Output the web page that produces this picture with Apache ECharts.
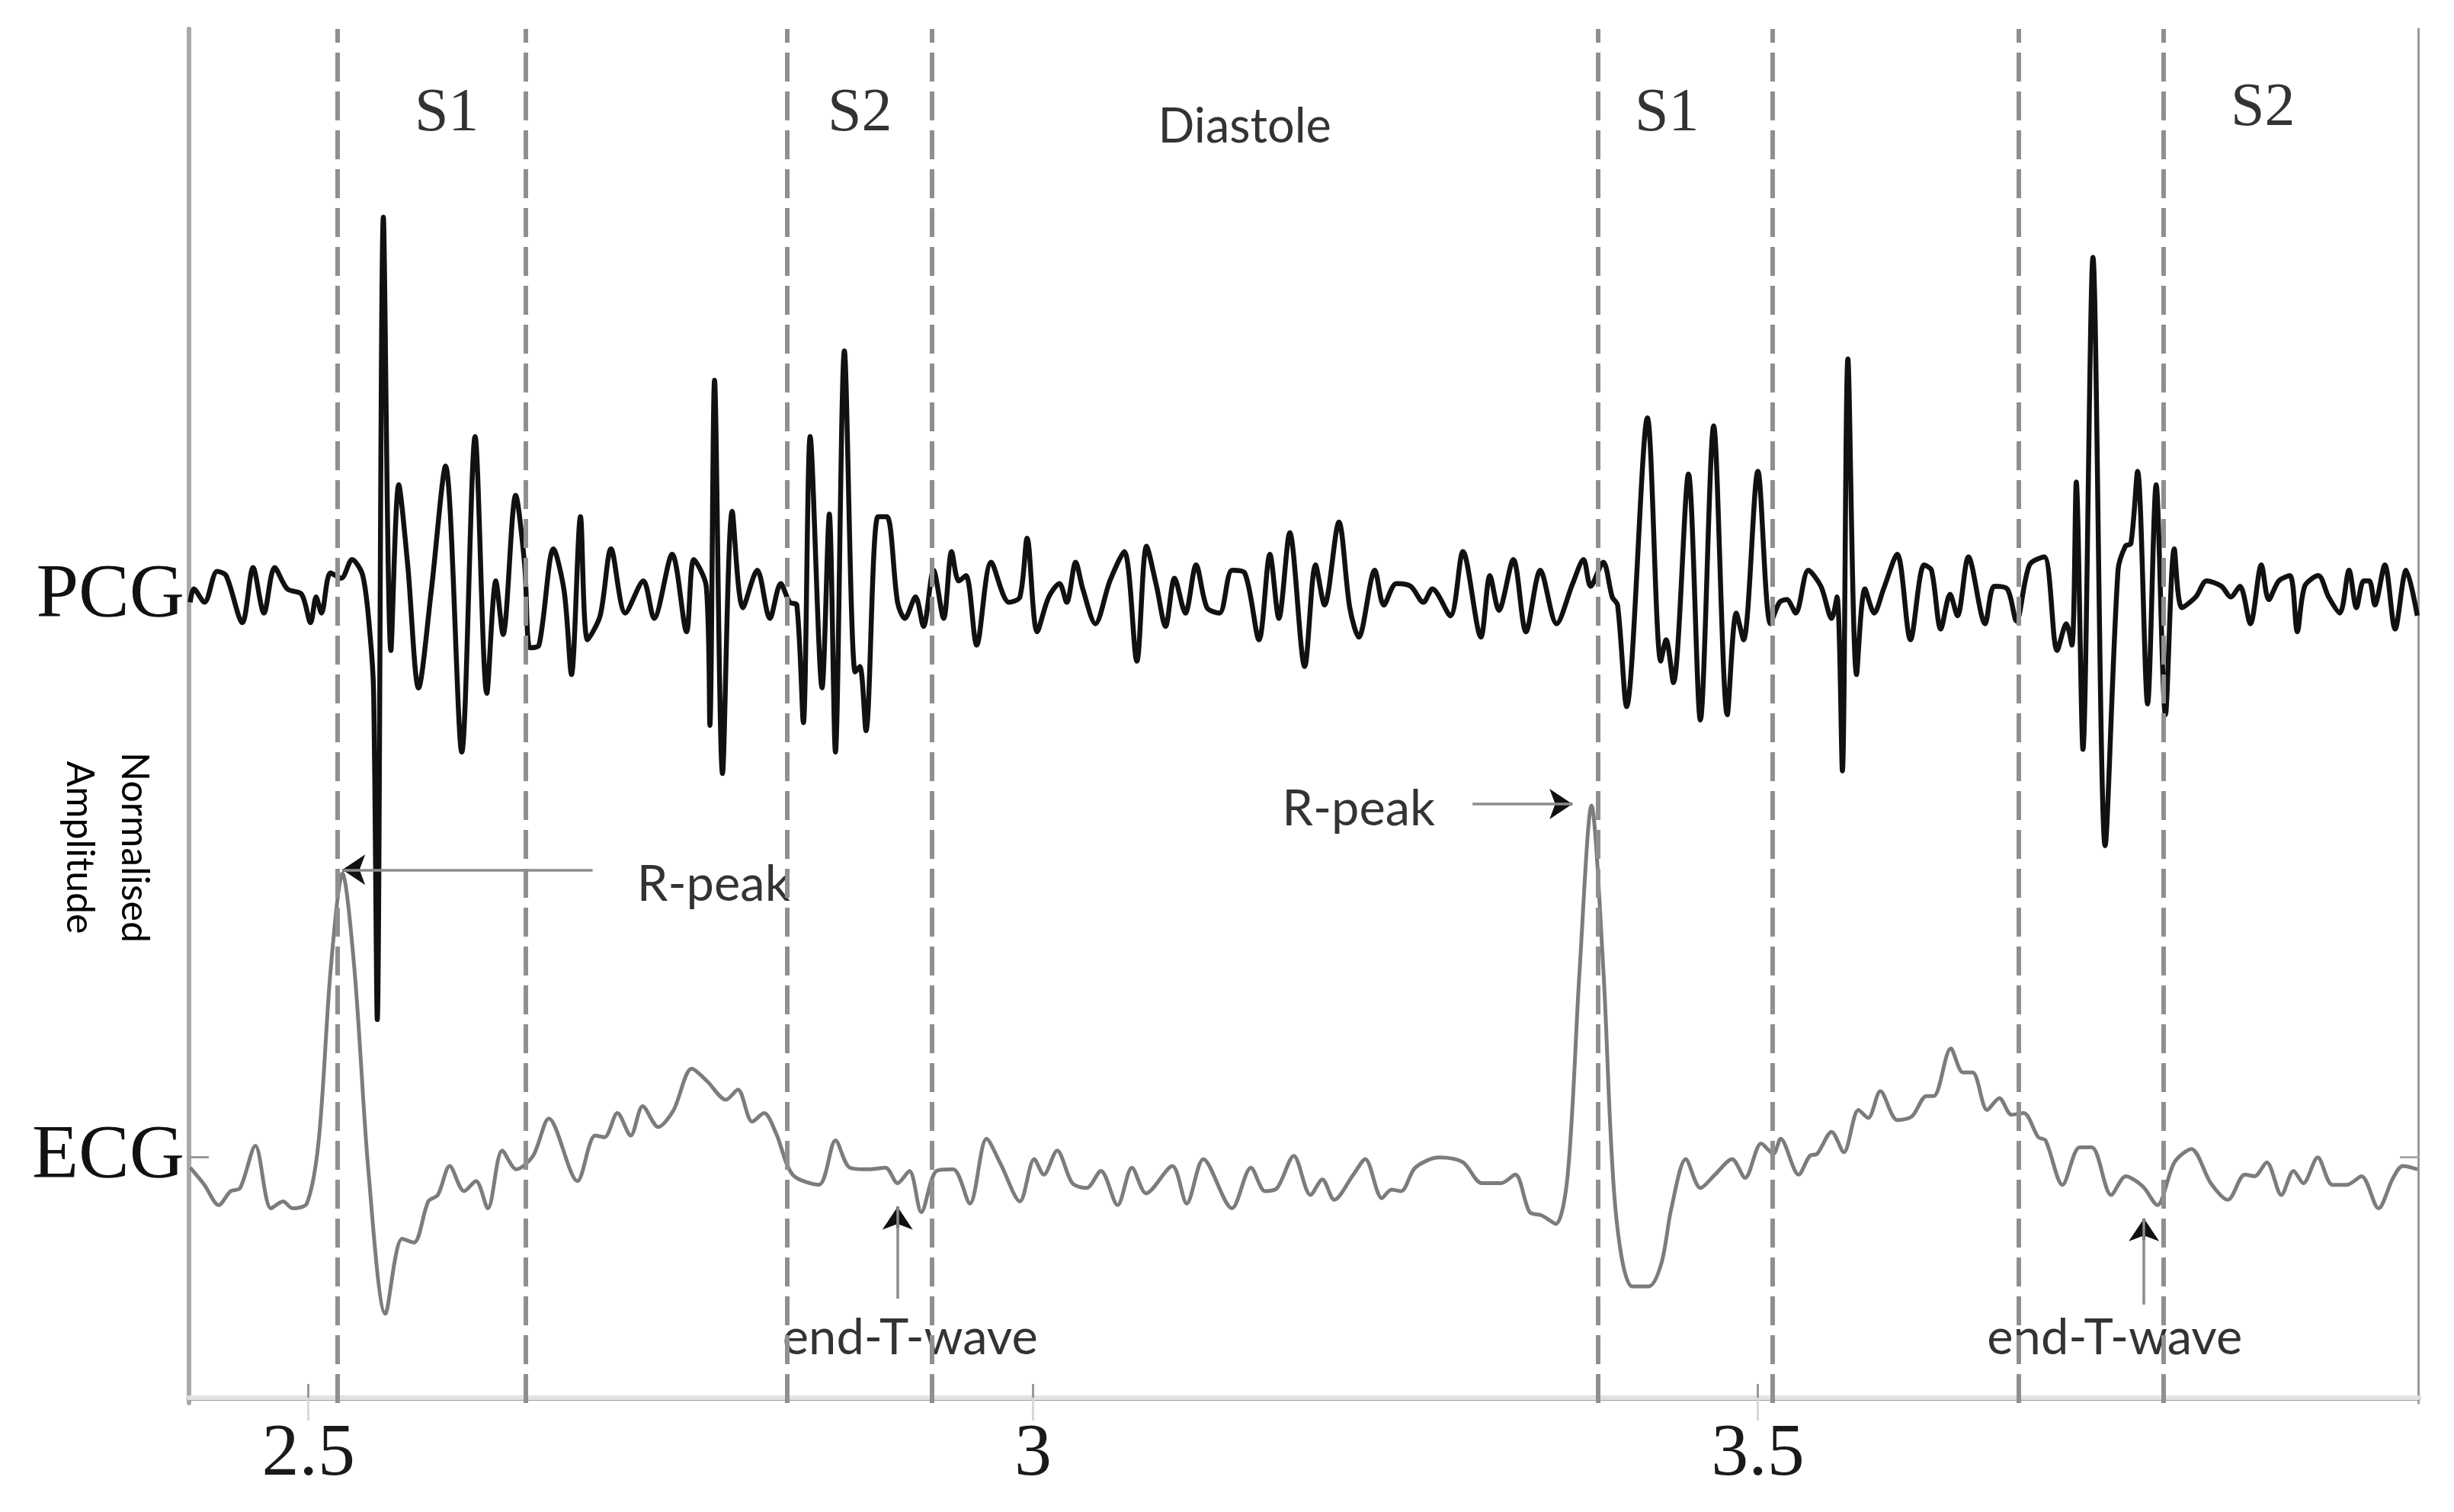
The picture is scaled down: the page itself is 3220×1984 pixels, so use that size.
<!DOCTYPE html>
<html lang="en">
<head>
    <meta charset="UTF-8">
    <title>PCG / ECG</title>
    <script src="https://cdn.jsdelivr.net/npm/echarts@6/dist/echarts.min.js"></script>
    <style>
        html, body { margin: 0; padding: 0; background: #fff; }
    </style>
</head>
<body>
<div id="main" style="width: 3220px; height: 1984px;"></div>

<script type="text/javascript">

    // PCG trace: turning points (time in s, amplitude in arbitrary units)
    var pcgTime = [
        2.4184, 2.4209, 2.4283, 2.4370, 2.4432, 2.4544, 2.4618, 2.4693, 2.4767, 2.4854,
        2.4953, 2.5015, 2.5053, 2.5090, 2.5152, 2.5226, 2.5301, 2.5375, 2.5425, 2.5450,
        2.5475, 2.5517, 2.5569, 2.5623, 2.5685, 2.5760, 2.5847, 2.5946, 2.6058, 2.6150,
        2.6231, 2.6293, 2.6343, 2.6430, 2.6492, 2.6529, 2.6591, 2.6691, 2.6765, 2.6815,
        2.6877, 2.6926, 2.7013, 2.7088, 2.7187, 2.7311, 2.7385, 2.7510, 2.7609, 2.7659,
        2.7745, 2.7770, 2.7802, 2.7857, 2.7924,
        2.7998, 2.8097, 2.8184, 2.8259, 2.8321, 2.8370, 2.8415, 2.8462, 2.8544, 2.8594,
        2.8636, 2.8698, 2.8772, 2.8805, 2.8847, 2.8929, 2.8991, 2.9065, 2.9115, 2.9189,
        2.9244, 2.9313, 2.9383, 2.9438, 2.9487, 2.9537, 2.9611, 2.9711, 2.9834, 2.9909,
        2.9959, 3.0028, 3.0108, 3.0182, 3.0232, 3.0294, 3.0343, 3.0430, 3.0530, 3.0629,
        3.0716, 3.0783, 3.0852, 3.0914, 3.0976, 3.1051, 3.1125, 3.1200, 3.1286, 3.1373,
        3.1460, 3.1559, 3.1634, 3.1696, 3.1771,
        3.1874, 3.1949, 3.2011, 3.2110, 3.2185, 3.2247, 3.2358, 3.2420, 3.2507, 3.2606,
        3.2693, 3.2755, 3.2879, 3.2966, 3.3090, 3.3152, 3.3214, 3.3314, 3.3401, 3.3500,
        3.3612, 3.3723, 3.3798, 3.3847, 3.3934, 3.3996, 3.4033, 3.4095, 3.4239, 3.4331,
        3.4368, 3.4418, 3.4522, 3.4604, 3.4696, 3.4790, 3.4852, 3.4902, 3.5001, 3.5088,
        3.5150, 3.5200, 3.5262, 3.5349, 3.5436, 3.5510, 3.5547, 3.5584, 3.5622,
        3.5682, 3.5740, 3.5804, 3.5868, 3.5962, 3.6054, 3.6148, 3.6199, 3.6263, 3.6327,
        3.6378, 3.6454, 3.6569, 3.6632, 3.6722, 3.6785, 3.6875, 3.6977, 3.7066, 3.7129,
        3.7168, 3.7198, 3.7244, 3.7313, 3.7397, 3.7486, 3.7537, 3.7575, 3.7621, 3.7690,
        3.7749, 3.7813, 3.7874, 3.7927, 3.8022, 3.8098, 3.8200, 3.8264, 3.8327, 3.8399,
        3.8475, 3.8526, 3.8595, 3.8672, 3.8723, 3.8774, 3.8868, 3.8939, 3.9016, 3.9080,
        3.9131, 3.9181, 3.9220, 3.9258, 3.9327, 3.9398, 3.9474, 3.9551
    ];
    var pcgAmp = [
        -1, 1.5, -1, 4.8, 4, -4.8, 5.5, -3, 5.5, 1.5,
        0.5, -4.8, 0, -3, 4.5, 3.5, 7, 4, -7, -18,
        -79, 71, -10, 21, 6, -17, 1, 24.5, -29, 30,
        -18, 3, -7, 19, 6, -9.5, -9, 9, 1, -14.5,
        15, -8, -3.5, 9, -3, 3, -4, 8, -6.5, 7,
        2, -24, 40.5, -33, 16,
        -2, 5, -4, 2.5, -1, -1.5, -23.5, 30, -17, 15.5,
        -29, 46, -14, -13, -25, 15, 15, -1, -4, 0,
        -5.5, 5, -4, 8.5, 3, 4, -9, 6.5, -1, 0,
        11, -6.5, 0, 2.5, -1, 6.5, 1.5, -5, 3, 8.5,
        -12, 9.5, 2, -5.5, 3.5, -3, 6, -2, -3, 5,
        4.5, -8, 8, -4, 12,
        -13, 6, -1.5, 14, -2, -7.5, 5, -1.5, 2.5, 2,
        -1, 1.5, -3.5, 8.5, -7.5, 4, -2.5, 7, -6.5, 5,
        -5, 2.5, 7, 2, 6.5, 0, -1.5, -20.5, 33.5, -12,
        -8, -16, 23, -23, 32, -22, -3, -8, 23.5, -5,
        -1, -0.5, -3, 5, 2, -4, 0, -32.5, 44.5,
        -14.5, 1.5, -3, 1.5, 8, -8, 6, 5, -6, 0.5,
        -3.5, 7.5, -5, 2, 1.5, -4.5, 6, 7.5, -10, -5,
        -9, 21.5, -28.5, 63.5, -46.5, 5, 9.5, 10, 23.5, -20,
        21, -22, 9, -2, 0, 3, 2, 0, 2, -5,
        6, -0.5, 3, 4, -6.5, 2, 4, 0, -3, 5,
        -2, 3, 3, -1.5, 6, -6, 5, -3.5
    ];

    // ECG trace, same units
    var ecgTime = [
        2.4184, 2.4282, 2.4381, 2.4463, 2.4529, 2.4634, 2.4742, 2.4825, 2.4890, 2.4989,
        2.5071, 2.5153, 2.5235, 2.5318, 2.5416, 2.5531, 2.5646, 2.5728, 2.5827, 2.5893,
        2.5975, 2.6074, 2.6156, 2.6238, 2.6337, 2.6435, 2.6550, 2.6659, 2.6856, 2.6978,
        2.7043, 2.7132, 2.7224, 2.7306, 2.7414, 2.7520, 2.7645, 2.7750, 2.7881, 2.7963,
        2.8062, 2.8144, 2.8227, 2.8341, 2.8522, 2.8637, 2.8736, 2.8867, 2.8982, 2.9065,
        2.9147, 2.9229,
        2.9334, 2.9449, 2.9564, 2.9679, 2.9778, 2.9909, 3.0008, 3.0074, 3.0166, 3.0271,
        3.0369, 3.0468, 3.0583, 3.0682, 3.0780, 3.0961, 3.1060, 3.1175, 3.1372, 3.1503,
        3.1602, 3.1684, 3.1799, 3.1914, 3.1996, 3.2078, 3.2210, 3.2292, 3.2407, 3.2473,
        3.2539, 3.2637, 3.2801, 3.2966, 3.3097, 3.3229, 3.3327, 3.3426, 3.3508, 3.3607,
        3.3689, 3.3771, 3.3853, 3.3935, 3.4018, 3.4133, 3.4248,
        3.4336, 3.4404, 3.4504, 3.4605, 3.4705, 3.4823, 3.4913, 3.5024, 3.5108, 3.5158,
        3.5282, 3.5359, 3.5410, 3.5510, 3.5594, 3.5695, 3.5762, 3.5846, 3.5963, 3.6064,
        3.6164, 3.6215, 3.6332, 3.6416, 3.6483, 3.6583, 3.6667, 3.6751, 3.6835, 3.6936,
        3.6986, 3.7103, 3.7221, 3.7305, 3.7439, 3.7539, 3.7657, 3.7757, 3.7875, 3.7992,
        3.8126, 3.8244, 3.8361, 3.8428, 3.8512, 3.8613, 3.8697, 3.8764, 3.8864, 3.8965,
        3.9065, 3.9166, 3.9283, 3.9384, 3.9451, 3.9552
    ];
    var ecgAmp = [
        -0.3, -3.5, -7.3, -4.7, -4.1, 3.8, -7.9, -6.6, -7.9, -7,
        4.8, 36.6, 54.7, 36.6, -1.6, -27.6, -13.6, -14.3, -6.6, -5.4,
        0, -4.7, -2.8, -7.9, 2.9, -0.6, 1.9, 8.9, -2.8, 5.7,
        5.4, 9.9, 5.7, 11.2, 7.3, 10.5, 18.2, 15.9, 12.4, 14.3,
        8.3, 9.9, 6.1, -1.6, -3.5, 4.8, -0.3, -0.6, -0.3, -3.2,
        -0.9, -8.6,
        -0.9, -0.6, -7, 5.1, 0.3, -6.6, 1.3, -1.6, 2.9, -3.2,
        -4.1, -0.9, -7.3, -0.3, -5.1, 0, -7, 1.3, -7.9, -0.3,
        -4.7, -4.1, 1.9, -5.4, -2.5, -6.3, -1.6, 1.3, -6, -4.4,
        -4.7, -0.3, 1.6, 0.7, -3.2, -3.2, -1.6, -8.6, -9.2, -10.8,
        -1.6, 36.6, 67.4, 36.6, -7.9, -22.5, -22.5,
        -18.1, -7.9, 1.3, -4.1, -1.6, 1.3, -2.2, 4.2, 2.3, 5.1,
        -1.6, 1.9, 2.3, 6.4, 2.6, 10.5, 9, 14, 8.6, 9.3,
        13.1, 13.1, 22, 17.5, 17.5, 10.5, 12.7, 9.6, 9.9, 5.4,
        4.8, -3.5, 3.5, 3.5, -5.4, -1.9, -3.8, -7.3, 0.7, 3.2,
        -3.2, -6.3, -1.6, -1.9, 0.7, -5.4, -0.9, -3.2, 1.6, -3.5,
        -3.5, -1.9, -7.9, -2.2, 0, -0.6
    ];

    // baselines of the two traces on the shared axis
    var pcgOffset = 149.7;
    var ecgOffset = 43.3;

    // phase boundaries (dashed lines)
    var boundaryTimes = [2.5226, 2.6529, 2.8254, 2.9333, 3.3852, 3.5133, 3.679, 3.7787];

    // phase names at the top
    var phaseNames = ['S1', 'S2', 'Diastole', 'S1', 'S2'];
    var phaseTimes = [2.5954, 2.8805, 3.146, 3.4374, 3.8485];
    var phaseY = [240, 240, 237.5, 240, 241];

    // annotations
    var noteNames = ['R-peak', 'R-peak', 'end-T-wave', 'end-T-wave'];
    var noteTimes = [2.7795, 3.2246, 2.9152, 3.7463];
    var noteY = [95.9, 110, 11.1, 11.1];
    // arrows: [fromTime, fromY, toTime, toY]
    var arrows = [
        [2.6961, 98.7, 2.5234, 98.7],
        [3.3032, 111, 3.3721, 111],
        [2.9065, 18.5, 2.9065, 35.7],
        [3.7665, 17.4, 3.7665, 33.5]
    ];
    // where each black arrow head starts (same order)
    var headStarts = [
        [2.5330, 98.7],
        [3.3625, 111],
        [2.9065, 31.7],
        [3.7665, 29.5]
    ];

    var xTicks = [2.5, 3, 3.5];
    var xTickLabels = ['2.5', '3', '3.5'];
    var yLabelValues = [150, 45];
    var yLabelNames = ['PCG', 'ECG'];
    var ecgTick = [45];

    var xMin = 2.4176, xMax = 3.9557;
    var yMin = -1.0, yMax = 255.9;

    var serif = '"Liberation Serif", "Times New Roman", serif';
    var sans = 'Lato, "Noto Sans", sans-serif';

    function traceData(ts, vs, offset) {
        var out = [];
        var n = Math.min(ts.length, vs.length);
        for (var i = 0; i < n; i++) {
            out.push([ts[i], offset + vs[i]]);
        }
        return out;
    }

    var labelData = [];
    for (var i = 0; i < phaseNames.length; i++) {
        var isS = phaseNames[i] !== 'Diastole';
        labelData.push({
            name: phaseNames[i],
            value: [phaseTimes[i], phaseY[i]],
            label: {
                fontFamily: isS ? serif : sans,
                fontSize: isS ? 80 : 63
            }
        });
    }
    for (var j = 0; j < noteNames.length; j++) {
        labelData.push({
            name: noteNames[j],
            value: [noteTimes[j], noteY[j]],
            label: {fontFamily: sans, fontSize: 65}
        });
    }

    var arrowData = arrows.map(function (a) {
        return [{coord: [a[0], a[1]]}, {coord: [a[2], a[3]]}];
    });
    var headData = arrows.map(function (a, k) {
        return [{coord: headStarts[k]}, {coord: [a[2], a[3]]}];
    });

    var myChart = echarts.init(document.getElementById('main'));
    myChart.setOption({
        animation: false,
        backgroundColor: '#fff',
        grid: {
            left: 248,
            right: 47,
            top: 38,
            bottom: 143,
            containLabel: false,
            outerBoundsMode: 'none'
        },
        graphic: [{
            type: 'text',
            x: 140,
            y: 1112,
            rotation: -Math.PI / 2,
            style: {
                text: 'Normalised\nAmplitude',
                font: '50px Lato',
                fill: '#000',
                lineHeight: 72,
                align: 'center',
                verticalAlign: 'middle',
                textAlign: 'center',
                textVerticalAlign: 'middle'
            }
        }],
        xAxis: [{
            type: 'value',
            position: 'bottom',
            min: xMin,
            max: xMax,
            axisLine: {show: true, lineStyle: {color: '#a0a0a0', width: 7}},
            axisTick: {
                show: true,
                customValues: xTicks,
                inside: true,
                length: 18,
                lineStyle: {color: '#999', width: 3}
            },
            axisLabel: {
                show: true,
                customValues: xTicks,
                margin: 19,
                fontFamily: serif,
                fontSize: 98,
                color: '#1a1a1a',
                formatter: function (v) {
                    for (var k = 0; k < xTicks.length; k++) {
                        if (Math.abs(v - xTicks[k]) < 1e-6) return xTickLabels[k];
                    }
                    return '';
                }
            },
            splitLine: {show: false}
        }, {
            type: 'value',
            position: 'top',
            min: xMin,
            max: xMax,
            axisLine: {show: true, lineStyle: {color: '#e2e2e2', width: 6}},
            axisTick: {
                show: true,
                customValues: xTicks,
                inside: true,
                length: 30,
                lineStyle: {color: '#d8d8d8', width: 3}
            },
            axisLabel: {show: false},
            splitLine: {show: false}
        }],
        yAxis: [{
            type: 'value',
            position: 'left',
            min: yMin,
            max: yMax,
            axisLine: {show: true, lineStyle: {color: '#a9a9a9', width: 6}},
            axisTick: {
                show: true,
                customValues: ecgTick,
                inside: true,
                length: 26,
                lineStyle: {color: '#999', width: 3}
            },
            axisLabel: {
                show: true,
                customValues: yLabelValues,
                margin: 6,
                fontFamily: serif,
                fontSize: 100,
                color: '#111',
                formatter: function (v) {
                    for (var k = 0; k < yLabelValues.length; k++) {
                        if (Math.abs(v - yLabelValues[k]) < 1e-6) return yLabelNames[k];
                    }
                    return '';
                }
            },
            splitLine: {show: false}
        }, {
            type: 'value',
            position: 'right',
            min: yMin,
            max: yMax,
            axisLine: {show: true, lineStyle: {color: '#9a9a9a', width: 3}},
            axisTick: {
                show: true,
                customValues: ecgTick,
                inside: true,
                length: 24,
                lineStyle: {color: '#aaa', width: 3}
            },
            axisLabel: {show: false},
            splitLine: {show: false}
        }],
        series: [{
            name: 'ECG',
            type: 'line',
            data: traceData(ecgTime, ecgAmp, ecgOffset),
            symbol: 'none',
            silent: true,
            smooth: 0.3,
            z: 2,
            lineStyle: {color: '#7c7c7c', width: 5, join: 'round'},
            markLine: {
                silent: true,
                symbol: ['none', 'none'],
                label: {show: false},
                lineStyle: {color: '#8f8f8f', type: [38, 13], width: 6},
                data: boundaryTimes.map(function (t) { return {xAxis: t}; })
            }
        }, {
            name: 'PCG',
            type: 'line',
            data: traceData(pcgTime, pcgAmp, pcgOffset),
            symbol: 'none',
            silent: true,
            smooth: 0.3,
            z: 3,
            lineStyle: {color: '#111', width: 6.5, join: 'round'},
            markLine: {
                silent: true,
                symbol: ['none', 'arrow'],
                symbolSize: 30,
                label: {show: false},
                lineStyle: {color: '#111', type: 'solid', width: 4},
                data: headData
            }
        }, {
            name: 'labels',
            type: 'scatter',
            data: labelData,
            symbolSize: 1,
            silent: true,
            z: 4,
            itemStyle: {color: 'rgba(0,0,0,0)'},
            label: {
                show: true,
                position: 'inside',
                formatter: '{b}',
                color: '#000',
                align: 'center',
                verticalAlign: 'middle'
            },
            markLine: {
                silent: true,
                symbol: ['none', 'none'],
                label: {show: false},
                lineStyle: {color: '#8c8c8c', type: 'solid', width: 3.5},
                data: arrowData
            }
        }]
    });

</script>
</body>
</html>
